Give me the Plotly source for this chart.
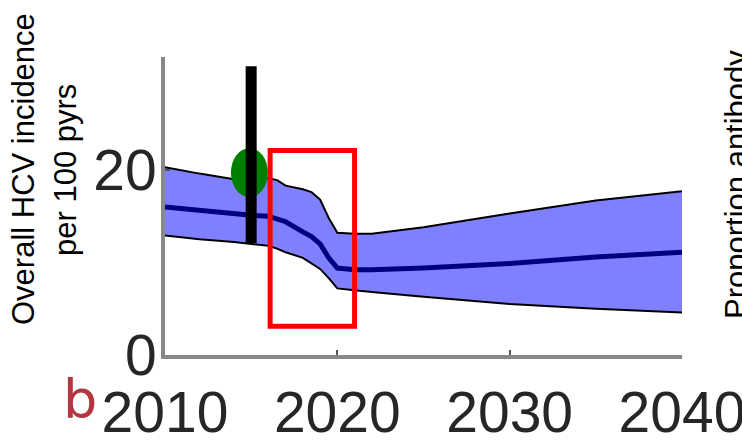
import plotly.graph_objects as go

# ---- data ----
years = [2010, 2012, 2014, 2015, 2016, 2016.5, 2017, 2018, 2018.5, 2019, 2019.5,
         2020, 2021, 2022, 2025, 2030, 2035, 2040]
upper = [20.3, 19.6, 19.0, 19.1, 19.1, 18.9, 18.3, 17.9, 17.6, 16.8, 14.8,
         13.2, 13.1, 13.1, 13.8, 15.3, 16.7, 17.7]
median = [16.0, 15.6, 15.2, 15.1, 15.0, 14.7, 14.4, 13.3, 12.8, 12.0, 10.5,
          9.4, 9.2, 9.2, 9.4, 9.9, 10.6, 11.1]
lower = [12.9, 12.5, 12.2, 12.0, 11.8, 11.5, 11.1, 10.5, 9.9, 9.3, 8.3,
         7.2, 7.0, 6.8, 6.3, 5.5, 5.0, 4.6]

obs_year = [2014.9]
obs_value = [19.7]
bar_year = [2015.0]
bar_low = [12.1]
bar_high = [31.2]

box_x = [2016.1, 2021.0]
box_y = [3.1, 22.1]

x_ticks = [2010, 2020, 2030, 2040]
y_ticks = [0, 20]

W, H = 742, 443
ML, MR, MT, MB = 165, 60, 57, 88
PW, PH = W - ML - MR, H - MT - MB


def px(x):
    return (x - ML) / PW


def py(y):
    return (H - MB - y) / PH


fig = go.Figure()
fig.add_trace(go.Scatter(x=years, y=upper, mode="lines",
                         line=dict(color="black", width=2), showlegend=False))
fig.add_trace(go.Scatter(x=years, y=lower, mode="lines", fill="tonexty",
                         fillcolor="#8080ff",
                         line=dict(color="black", width=2), showlegend=False))
fig.add_trace(go.Scatter(x=years, y=median, mode="lines",
                         line=dict(color="#000080", width=5), showlegend=False))

shapes = []
shapes.append(dict(type="circle", xref="x", yref="y", xsizemode="pixel",
                   ysizemode="pixel", xanchor=obs_year[0], yanchor=obs_value[0],
                   x0=-18.5, x1=18.5, y0=-24.5, y1=24.5,
                   fillcolor="#008000", line=dict(width=0), layer="above"))
shapes.append(dict(type="line", xref="x", yref="y", x0=bar_year[0], x1=bar_year[0],
                   y0=bar_low[0], y1=bar_high[0],
                   line=dict(color="black", width=11), layer="above"))
shapes.append(dict(type="rect", xref="x", yref="y", x0=box_x[0], x1=box_x[1],
                   y0=box_y[0], y1=box_y[1],
                   line=dict(color="#ff0000", width=5), layer="above"))

FONT = "Liberation Sans, Arial"
annotations = [
    dict(text="Overall HCV incidence", textangle=-90, xref="paper", yref="paper",
         x=px(23), y=py(169), xanchor="center", yanchor="middle", showarrow=False,
         font=dict(family=FONT, size=31, color="black")),
    dict(text="per 100 pyrs", textangle=-90, xref="paper", yref="paper",
         x=px(65), y=py(170), xanchor="center", yanchor="middle", showarrow=False,
         font=dict(family=FONT, size=31, color="black")),
    dict(text="Proportion antibody", textangle=-90, xref="paper", yref="paper",
         x=px(736), y=py(185), xanchor="center", yanchor="middle", showarrow=False,
         font=dict(family=FONT, size=31, color="black")),
    dict(text="b", xref="paper", yref="paper",
         x=px(80), y=py(399), xanchor="center", yanchor="middle", showarrow=False,
         font=dict(family="DejaVu Sans", size=54, color="#b3363f")),
]

axis_common = dict(showgrid=False, zeroline=False, showline=True, linecolor="#888888",
                   linewidth=4, ticks="inside", ticklen=5, tickcolor="#555555",
                   tickwidth=2, ticklabeloverflow="allow", automargin=False,
                   tickfont=dict(family=FONT, size=57, color="#262626"))

fig.update_layout(
    width=W, height=H,
    margin=dict(l=ML, r=MR, t=MT, b=MB, pad=0, autoexpand=False),
    paper_bgcolor="white", plot_bgcolor="white",
    shapes=shapes, annotations=annotations,
    xaxis=dict(range=[2010, 2040], tickvals=x_ticks, ticktext=[str(v) for v in x_ticks],
               ticklabelstandoff=5, **axis_common),
    yaxis=dict(range=[0, 32.2], tickvals=y_ticks, ticktext=[str(v) for v in y_ticks],
               ticklabelstandoff=-7, **axis_common),
)

fig.write_html(
    "out.html",
    config={"displayModeBar": False},
    post_script="document.body.style.margin='0';document.body.style.padding='0';"
                "document.body.style.overflow='hidden';"
                "document.documentElement.style.overflow='hidden';",
)
